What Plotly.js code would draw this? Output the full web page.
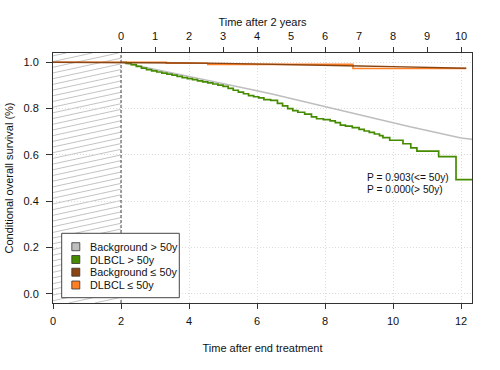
<!DOCTYPE html>
<html>
<head>
<meta charset="utf-8">
<script src="https://cdn.plot.ly/plotly-3.0.1.min.js"></script>
<style>html,body{margin:0;padding:0;background:#fff;}#chart{width:500px;height:370px;}</style>
</head>
<body>
<div id="chart"></div>
<script>
// ---- data ----
var seriesNames = ["Background > 50y", "DLBCL > 50y", "Background \u2264 50y", "DLBCL \u2264 50y"];
var seriesColors = ["#bebebe", "#458B00", "#8B4513", "#FF7F24"];

var bgOldT = [2.0, 2.5, 3.0, 3.5, 4.0, 4.5, 5.0, 5.5, 6.0, 6.5, 7.0, 7.5, 8.0, 8.5, 9.0, 9.5, 10.0, 10.5, 11.0, 11.5, 12.0, 12.32];
var bgOldS = [1.000, 0.985, 0.970, 0.955, 0.940, 0.925, 0.909, 0.893, 0.877, 0.861, 0.844, 0.827, 0.810, 0.792, 0.774, 0.757, 0.739, 0.721, 0.704, 0.687, 0.673, 0.667];

var dlOldT = [2.0, 2.15, 2.3, 2.45, 2.6, 2.75, 2.9, 3.05, 3.2, 3.35, 3.5, 3.65, 3.8, 3.95, 4.1, 4.25, 4.4, 4.55, 4.7, 4.85, 5.0, 5.15, 5.3, 5.45, 5.6, 5.75, 5.9, 6.05, 6.2, 6.4, 6.6, 6.75, 6.9, 7.05, 7.2, 7.4, 7.6, 7.75, 7.95, 8.15, 8.3, 8.45, 8.6, 8.8, 9.0, 9.15, 9.3, 9.45, 9.6, 9.7, 9.9, 10.29, 10.52, 10.7, 11.34, 11.85, 12.32];
var dlOldS = [1.000, 0.995, 0.990, 0.982, 0.975, 0.968, 0.963, 0.958, 0.953, 0.949, 0.944, 0.939, 0.934, 0.929, 0.925, 0.920, 0.915, 0.911, 0.906, 0.901, 0.896, 0.887, 0.879, 0.871, 0.864, 0.856, 0.851, 0.846, 0.839, 0.835, 0.822, 0.812, 0.800, 0.791, 0.784, 0.776, 0.764, 0.756, 0.752, 0.747, 0.739, 0.728, 0.724, 0.718, 0.710, 0.703, 0.697, 0.690, 0.683, 0.674, 0.663, 0.648, 0.630, 0.616, 0.592, 0.493, 0.493];

var bgYoungT = [0, 2.0, 3.0, 4.0, 5.0, 6.0, 7.0, 8.0, 9.0, 10.0, 11.0, 12.15];
var bgYoungS = [1.000, 1.000, 0.999, 0.997, 0.995, 0.993, 0.990, 0.987, 0.984, 0.981, 0.978, 0.974];

var dlYoungT = [0, 3.33, 4.55, 8.82, 12.15];
var dlYoungS = [1.000, 0.996, 0.991, 0.973, 0.973];

var xTicks = [0, 2, 4, 6, 8, 10, 12];
var topTicks = [0, 1, 2, 3, 4, 5, 6, 7, 8, 9, 10];
var yTicks = [0.0, 0.2, 0.4, 0.6, 0.8, 1.0];
var pTexts = ["P = 0.903(&lt;= 50y)", "P = 0.000(&gt; 50y)"];

// ---- geometry ----
var W = 500, H = 370, L = 53, R = 28, T = 53, B = 67;
var pw = W - L - R, ph = H - T - B;
function px(x) { return (x - L) / pw; }
function py(y) { return (H - B - y) / ph; }
var xr = [0, 12.32], yr = [-0.04, 1.04];
var FONT = "Liberation Sans, Arial, sans-serif";

var traces = [
  {x: bgOldT, y: bgOldS, mode: "lines", line: {color: seriesColors[0], width: 1.5}, showlegend: false, hoverinfo: "skip"},
  {x: dlOldT, y: dlOldS, mode: "lines", line: {color: seriesColors[1], width: 1.7, shape: "hv"}, showlegend: false, hoverinfo: "skip"},
  {x: dlYoungT, y: dlYoungS, mode: "lines", line: {color: seriesColors[3], width: 1.6, shape: "hv"}, showlegend: false, hoverinfo: "skip"},
  {x: bgYoungT, y: bgYoungS, mode: "lines", line: {color: seriesColors[2], width: 1.4}, showlegend: false, hoverinfo: "skip"},
  {x: [0], y: [null], xaxis: "x2", yaxis: "y", mode: "lines", showlegend: false, hoverinfo: "skip"}
];

// hatch lines in region x in [0,2]
var shapes = [];
var k = 0.032, step = 0.0246, x0 = 0, x1 = 2;
for (var b = yr[0] - k * x1; b < yr[1]; b += step) {
  var xa = Math.max(x0, (yr[0] - b) / k), xb = Math.min(x1, (yr[1] - b) / k);
  if (xb > xa) shapes.push({type: "line", xref: "x", yref: "y", x0: xa, y0: b + k * xa, x1: xb, y1: b + k * xb, line: {color: "#b4b4b4", width: 0.8}, layer: "below"});
}
shapes.push({type: "line", xref: "x", yref: "y", x0: 2, x1: 2, y0: yr[0], y1: yr[1], line: {color: "#444", width: 1, dash: "3px,2px"}});

// legend box
var annotations = [];
shapes.push({type: "rect", xref: "paper", yref: "paper", x0: px(61.7), x1: px(179.3), y0: py(297.7), y1: py(233.3), line: {color: "#444", width: 1}, fillcolor: "#fff"});
var rowY = [246.7, 259.5, 272.2, 285];
for (var i = 0; i < seriesNames.length; i++) {
  shapes.push({type: "rect", xref: "paper", yref: "paper", x0: px(71.8), x1: px(79.8), y0: py(rowY[i] + 4), y1: py(rowY[i] - 4), line: {color: "#333", width: 0.8}, fillcolor: seriesColors[i]});
  annotations.push({xref: "paper", yref: "paper", x: px(87.5), y: py(rowY[i]), xanchor: "left", yanchor: "middle", showarrow: false, text: seriesNames[i].replace(">", "&gt;"), font: {family: FONT, size: 10.8, color: "#111"}});
}
annotations.push({xref: "paper", yref: "paper", x: px(365), y: py(177.3), xanchor: "left", yanchor: "middle", showarrow: false, text: pTexts[0], font: {family: FONT, size: 10.2, color: "#111"}});
annotations.push({xref: "paper", yref: "paper", x: px(365), y: py(189), xanchor: "left", yanchor: "middle", showarrow: false, text: pTexts[1], font: {family: FONT, size: 10.2, color: "#111"}});

var gridStyle = {showgrid: true, gridcolor: "#dcdcdc", gridwidth: 1, griddash: "1px,2px"};

var layout = {
  width: W, height: H,
  margin: {l: L, r: R, t: T, b: B, pad: 0},
  paper_bgcolor: "#fff", plot_bgcolor: "#fff",
  font: {family: FONT, size: 11, color: "#111"},
  showlegend: false,
  xaxis: Object.assign({range: xr, tickmode: "array", tickvals: xTicks, ticktext: xTicks.map(String), ticks: "outside", ticklen: 5, tickcolor: "#333",
    showline: true, linecolor: "#333", linewidth: 1, mirror: false, zeroline: false,
    ticklabelstandoff: 3, title: {text: "Time after end treatment", standoff: 18, font: {size: 11}}}, gridStyle),
  xaxis2: {overlaying: "x", side: "top", anchor: "y", range: [xr[0] - 2, xr[1] - 2], tickmode: "array", tickvals: topTicks, ticktext: topTicks.map(String),
    ticks: "outside", ticklen: 5, tickcolor: "#333", showline: true, linecolor: "#333", showgrid: false, zeroline: false,
    ticklabelstandoff: 3, title: {text: "Time after 2 years", standoff: 0, font: {size: 11}}},
  yaxis: Object.assign({range: yr, tickmode: "array", tickvals: yTicks, ticktext: yTicks.map(function (v) { return v.toFixed(1); }), ticks: "outside", ticklen: 6, tickcolor: "#333",
    showline: true, linecolor: "#333", mirror: true, zeroline: false,
    ticklabelstandoff: 5, title: {text: "Conditional overall survival (%)", standoff: 7, font: {size: 11}}}, gridStyle),
  shapes: shapes,
  annotations: annotations
};

Plotly.newPlot("chart", traces, layout, {staticPlot: true, displayModeBar: false});
</script>
</body>
</html>
